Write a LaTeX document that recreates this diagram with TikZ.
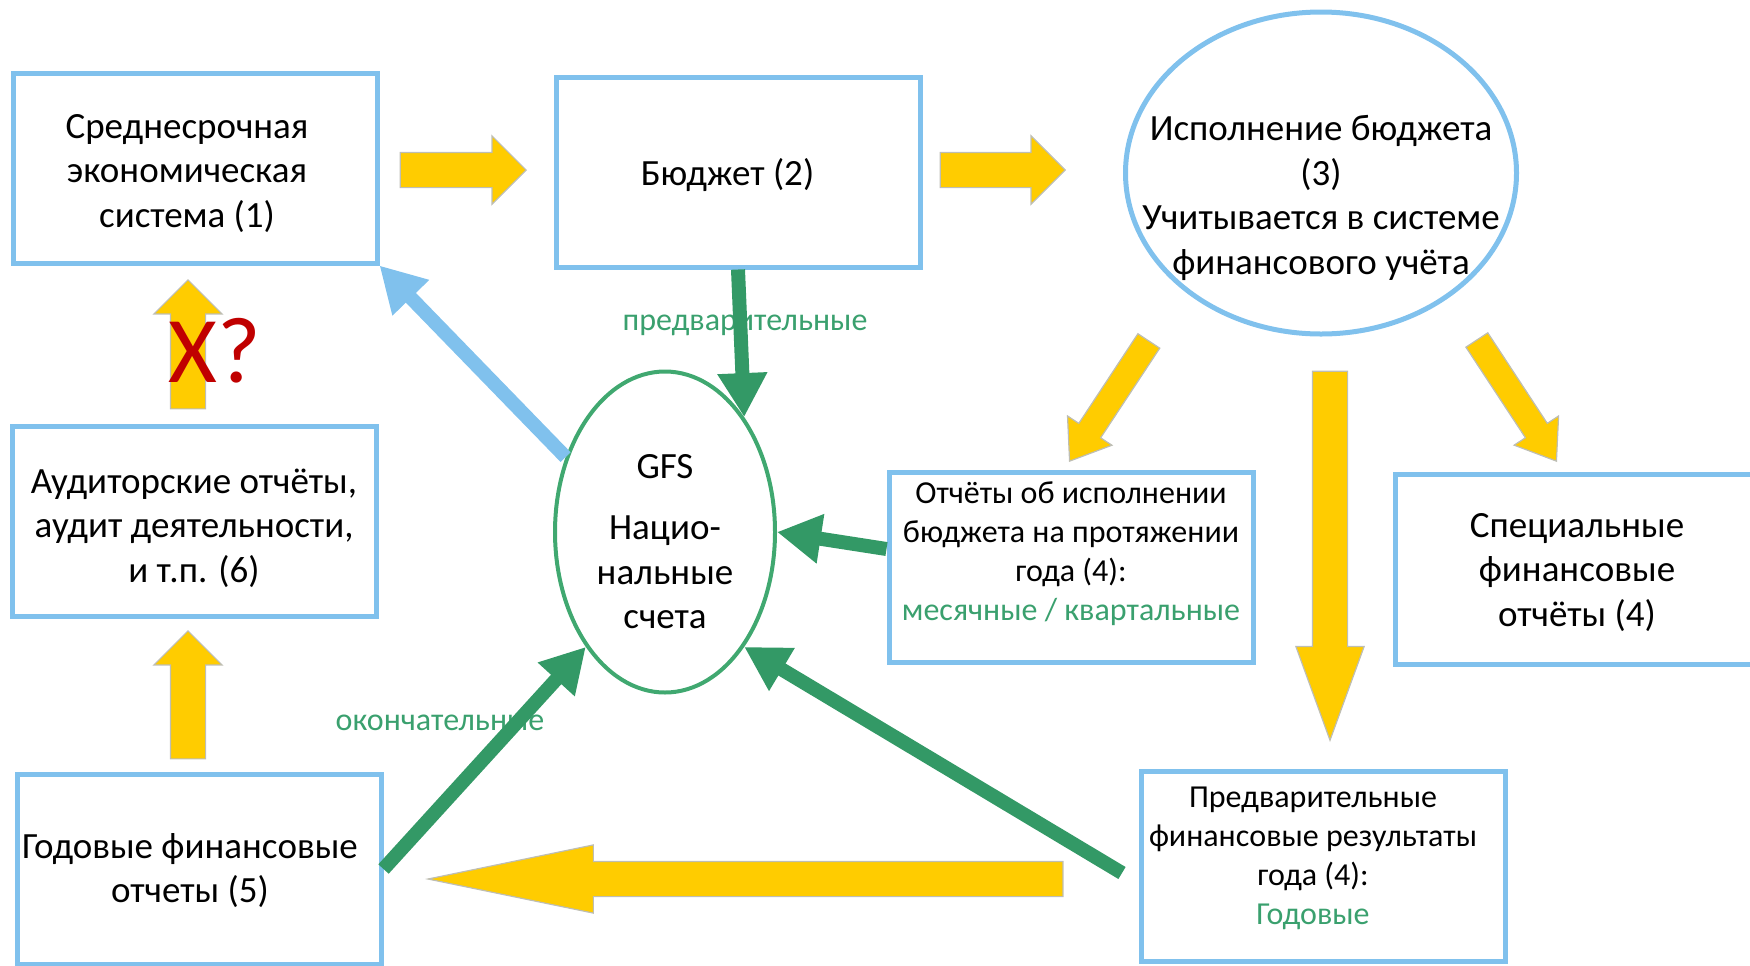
\documentclass[tikz,border=0pt]{standalone}
\usepackage{fontspec}
\setmainfont{Carlito}
\usetikzlibrary{shapes.geometric}
\usetikzlibrary{shapes.arrows}
\usetikzlibrary{arrows.meta}

\definecolor{boxblue}{RGB}{128,193,237}
\definecolor{gfsgreen}{RGB}{51,153,102}
\definecolor{ovalgreen}{RGB}{64,168,112}
\definecolor{labelgreen}{RGB}{58,160,110}
\definecolor{blockyellow}{RGB}{255,204,0}
\definecolor{blockedge}{RGB}{190,190,180}
\definecolor{markred}{RGB}{192,0,0}

\begin{document}
\begin{tikzpicture}[x=0.5pt, y=-0.5pt,
	infobox/.style={rectangle, draw=boxblue, line width=2.5pt, minimum width=182pt, minimum height=95pt},
	oval/.style={ellipse, line width=2.5pt, inner sep=0pt},
	bigtext/.style={align=center, font=\fontsize{18.5}{22.3}\selectfont},
	smalltext/.style={align=center, font=\fontsize{16}{19.5}\selectfont},
	lbl/.style={text=labelgreen, font=\fontsize{16}{19.5}\selectfont},
	yblock/.style={single arrow, draw=blockedge, line width=0.6pt, fill=blockyellow, inner xsep=0pt, inner ysep=8.5pt, minimum width=0pt, single arrow head extend=8.25pt, single arrow tip angle=90, anchor=tip},
	thinblock/.style={yblock, inner ysep=6.25pt, single arrow head extend=6.75pt, single arrow tip angle=72},
	flow/.style={draw=gfsgreen, line width=7pt, -{Triangle[length=22pt, width=23.5pt]}},
	feedback/.style={draw=boxblue, line width=7pt, -{Triangle[length=22.5pt, width=24pt]}}]
	\useasboundingbox (0,0) rectangle (1750,965);
	\clip (0,0) rectangle (1750,965);

	% boxes
	\node[infobox] (medium) at (195,168) {};
	\node[infobox] (budget) at (738,172) {};
	\node[oval, draw=boxblue, minimum width=195.5pt, minimum height=161pt] (exec) at (1321,173) {};
	\node[infobox] (audit) at (194,521) {};
	\node[infobox] (annual) at (199,869) {};
	\node[oval, draw=ovalgreen, line width=2pt, minimum width=110pt, minimum height=160.5pt] (gfs) at (665,532) {};
	\node[infobox] (monthly) at (1071,567) {};
	\node[infobox] (special) at (1577,569) {};
	\node[infobox] (prelim) at (1323,866) {};

	% texts
	\node[bigtext] (mediumtext) at (187,173.5) {Среднесрочная\\экономическая\\система (1)};
	\node[bigtext] (budgettext) at (727.5,175) {Бюджет (2)};
	\node[bigtext] (exectext) at (1321,198) {Исполнение бюджета\\(3)\\Учитывается в системе\\финансового учёта};
	\node[bigtext] (audittext) at (194,528) {Аудиторские отчёты,\\аудит деятельности,\\и т.п. (6)};
	\node[bigtext] (annualtext) at (190,870.5) {Годовые финансовые\\отчеты (5)};
	\node[bigtext] (gfstext) at (665,542) {GFS\\[8pt]Нацио-\\нальные\\счета};
	\node[smalltext] (monthlytext) at (1071,554) {Отчёты об исполнении\\бюджета на протяжении\\года (4):\\\textcolor{labelgreen}{месячные / квартальные}};
	\node[bigtext] (specialtext) at (1577,572.5) {Специальные\\финансовые\\отчёты (4)};
	\node[smalltext] (prelimtext) at (1313,858.5) {Предварительные\\финансовые результаты\\года (4):\\\textcolor{labelgreen}{Годовые}};

	% block arrows, placed by their tips
	\node[yblock, minimum height=63pt] (tobudget) at (527,170) {};
	\node[yblock, minimum height=62.5pt] (toexec) at (1066,170) {};
	\node[yblock, minimum height=64.5pt, rotate=90] (tomedium) at (188,279) {};
	\node[yblock, minimum height=64pt, rotate=90] (toaudit) at (188,630) {};
	\node[yblock, minimum height=184.5pt, rotate=-90, single arrow tip angle=40] (toprelim) at (1330,742) {};
	\node[yblock, minimum height=317.5pt, rotate=180, single arrow tip angle=23.3] (toannual) at (425,879) {};
	\node[thinblock, minimum height=72pt, rotate=-123.4] (tomonthly) at (1069,462) {};
	\node[thinblock, minimum height=72.5pt, rotate=-56.7] (tospecial) at (1557,462) {};

	% labels
	\node[lbl] (prelimlbl) at (745,325) {предварительные};
	\node[lbl] (finallbl) at (440,723) {окончательные};
	\node[font=\fontsize{47}{50}\selectfont, text=markred, anchor=base] (doubt) at (215,382) {X?};

	% edges
	\draw[feedback] (gfs.143) -- (medium.south east);
	\draw[flow] (budget.south) -- (gfs.north east);
	\draw[flow] ([yshift=9pt]monthly.west) -- (gfs.east);
	\draw[flow] (annual.east) -- (gfs.south west);
	\draw[flow] ([shift={(-8.25pt,-3.5pt)}]prelim.west) -- (gfs.south east);
\end{tikzpicture}
\end{document}
